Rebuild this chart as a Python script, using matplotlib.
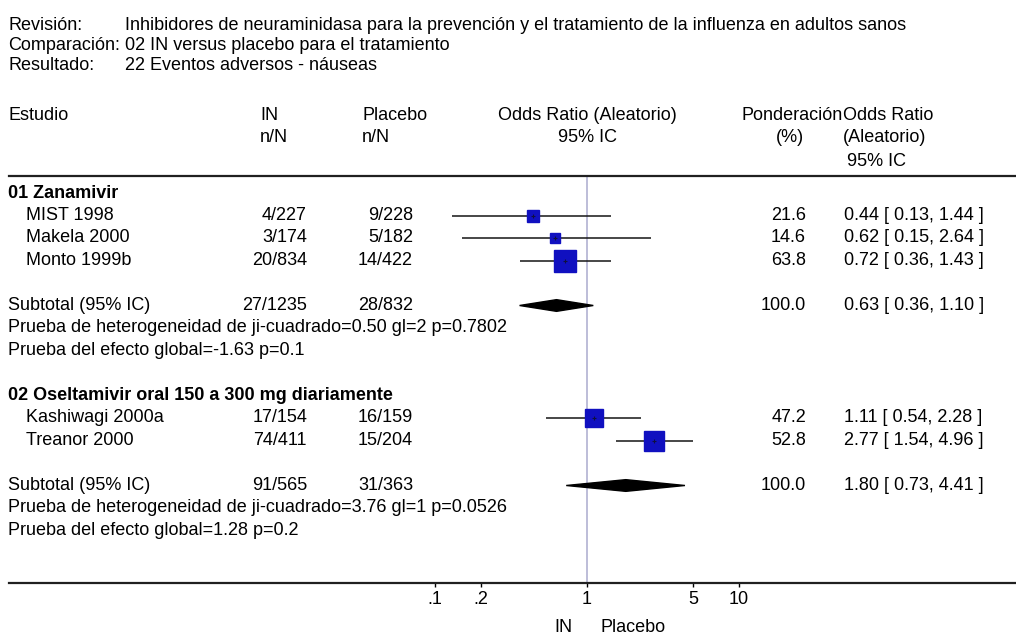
import numpy as np
import matplotlib.pyplot as plt
from matplotlib import transforms

plt.rcParams['font.family'] = ['Liberation Sans', 'DejaVu Sans']

W, H = 1016, 637
fs = 13

# --- datos ---
g1_label = '01 Zanamivir'
g1_names = ['MIST 1998', 'Makela 2000', 'Monto 1999b']
g1_in = ['4/227', '3/174', '20/834']
g1_pl = ['9/228', '5/182', '14/422']
g1_w = [21.6, 14.6, 63.8]
g1_or = [0.44, 0.62, 0.72]
g1_lo = [0.13, 0.15, 0.36]
g1_hi = [1.44, 2.64, 1.43]
g1_tot = ['27/1235', '28/832']
g1_sub = [0.63, 0.36, 1.10]
g1_het = 'Prueba de heterogeneidad de ji-cuadrado=0.50 gl=2 p=0.7802'
g1_eff = 'Prueba del efecto global=-1.63 p=0.1'

g2_label = '02 Oseltamivir oral 150 a 300 mg diariamente'
g2_names = ['Kashiwagi 2000a', 'Treanor 2000']
g2_in = ['17/154', '74/411']
g2_pl = ['16/159', '15/204']
g2_w = [47.2, 52.8]
g2_or = [1.11, 2.77]
g2_lo = [0.54, 1.54]
g2_hi = [2.28, 4.96]
g2_tot = ['91/565', '31/363']
g2_sub = [1.80, 0.73, 4.41]
g2_het = 'Prueba de heterogeneidad de ji-cuadrado=3.76 gl=1 p=0.0526'
g2_eff = 'Prueba del efecto global=1.28 p=0.2'

ticks = [0.1, 0.2, 1, 5, 10]
tick_labels = ['.1', '.2', '1', '5', '10']

fig = plt.figure(figsize=(W / 100, H / 100), dpi=100)

def put(x, y, s, **kw):
    kw.setdefault('fontsize', fs)
    kw.setdefault('va', 'center')
    return fig.text(x / W, 1 - y / H, s, **kw)

# cabecera
put(8, 25, 'Revisión:')
lab = put(8, 45, 'Comparación:')
put(8, 65, 'Resultado:')
fig.canvas.draw()
bb = lab.get_window_extent()
vx = max(97, bb.x1 + 5)
put(vx, 25, 'Inhibidores de neuraminidasa para la prevención y el tratamiento de la influenza en adultos sanos')
put(vx, 45, '02 IN versus placebo para el tratamiento')
put(vx, 65, '22 Eventos adversos - náuseas')

put(8, 115, 'Estudio')
put(260, 115, 'IN')
put(260, 138, 'n/N')
put(362, 115, 'Placebo')
put(362, 138, 'n/N')
put(587, 115, 'Odds Ratio (Aleatorio)', ha='center')
put(587, 138, '95% IC', ha='center')
put(843, 115, 'Ponderación', ha='right')
put(790, 138, '(%)', ha='center')
put(843, 115, 'Odds Ratio')
put(843, 138, '(Aleatorio)')
put(847, 162, '95% IC')

# ejes del forest plot
top_px, bot_px, row0, rowh = 176, 583, 193, 22.5
ax = fig.add_axes([9 / W, (H - bot_px) / H, (W - 9) / W, (bot_px - top_px) / H])
ax.set_xscale('log')
ax.set_xlim(10 ** ((9 - 587) / 152), 10 ** ((W - 587) / 152))
ax.set_ylim((bot_px - row0) / rowh, (top_px - row0) / rowh)
for s in ['left', 'right']:
    ax.spines[s].set_visible(False)
for s in ['top', 'bottom']:
    ax.spines[s].set_linewidth(1.6)
    ax.spines[s].set_color('#202020')
ax.set_yticks([])
ax.set_xticks(ticks)
ax.set_xticklabels(tick_labels, fontsize=fs)
ax.minorticks_off()
ax.tick_params(axis='x', direction='out', length=3, width=1, pad=3)
ax.axvline(1, color='#b8b8d6', lw=1.3, zorder=1)

tr = transforms.blended_transform_factory(fig.transFigure, ax.transData)

def row_text(x, r, s, **kw):
    kw.setdefault('fontsize', fs)
    kw.setdefault('va', 'center')
    ax.text(x / W, r, s, transform=tr, clip_on=False, **kw)

def group(r0, label, names, n_in, n_pl, w, orr, lo, hi, tot, sub, het, eff):
    row_text(8, r0, label, fontweight='bold')
    rows = r0 + 1 + np.arange(len(names))
    for r, nm, a, b, wi, o, l, h in zip(rows, names, n_in, n_pl, w, orr, lo, hi):
        row_text(26, r, nm)
        row_text(307, r, a, ha='right')
        row_text(413, r, b, ha='right')
        row_text(806, r, f'{wi:.1f}', ha='right')
        row_text(844, r, f'{o:.2f} [ {l:.2f}, {h:.2f} ]')
        ax.hlines(r, l, h, color='#151515', lw=1.1, zorder=2)
        ax.plot(o, r, marker='s', ms=1.9 * np.sqrt(wi), color='#1010c0', mec='#1010c0', zorder=3)
        ax.plot(o, r, marker='+', ms=3, color='#101040', mew=0.8, zorder=4)
    rs = rows[-1] + 2
    row_text(8, rs, 'Subtotal (95% IC)')
    row_text(307, rs, tot[0], ha='right')
    row_text(413, rs, tot[1], ha='right')
    row_text(806, rs, '100.0', ha='right')
    row_text(844, rs, f'{sub[0]:.2f} [ {sub[1]:.2f}, {sub[2]:.2f} ]')
    hh = 0.26
    ax.fill([sub[1], sub[0], sub[2], sub[0]], [rs, rs - hh, rs, rs + hh], color='black', zorder=3)
    row_text(8, rs + 1, het)
    row_text(8, rs + 2, eff)
    return rs + 2

end1 = group(0, g1_label, g1_names, g1_in, g1_pl, g1_w, g1_or, g1_lo, g1_hi, g1_tot, g1_sub, g1_het, g1_eff)
group(end1 + 2, g2_label, g2_names, g2_in, g2_pl, g2_w, g2_or, g2_lo, g2_hi, g2_tot, g2_sub, g2_het, g2_eff)

ax.annotate('IN', xy=(1, 0), xycoords=('data', 'axes fraction'), xytext=(-14, -45),
            textcoords='offset pixels', ha='right', va='center', fontsize=fs)
ax.annotate('Placebo', xy=(1, 0), xycoords=('data', 'axes fraction'), xytext=(13, -45),
            textcoords='offset pixels', ha='left', va='center', fontsize=fs)

fig.savefig('out.png', dpi=100, facecolor='white')
